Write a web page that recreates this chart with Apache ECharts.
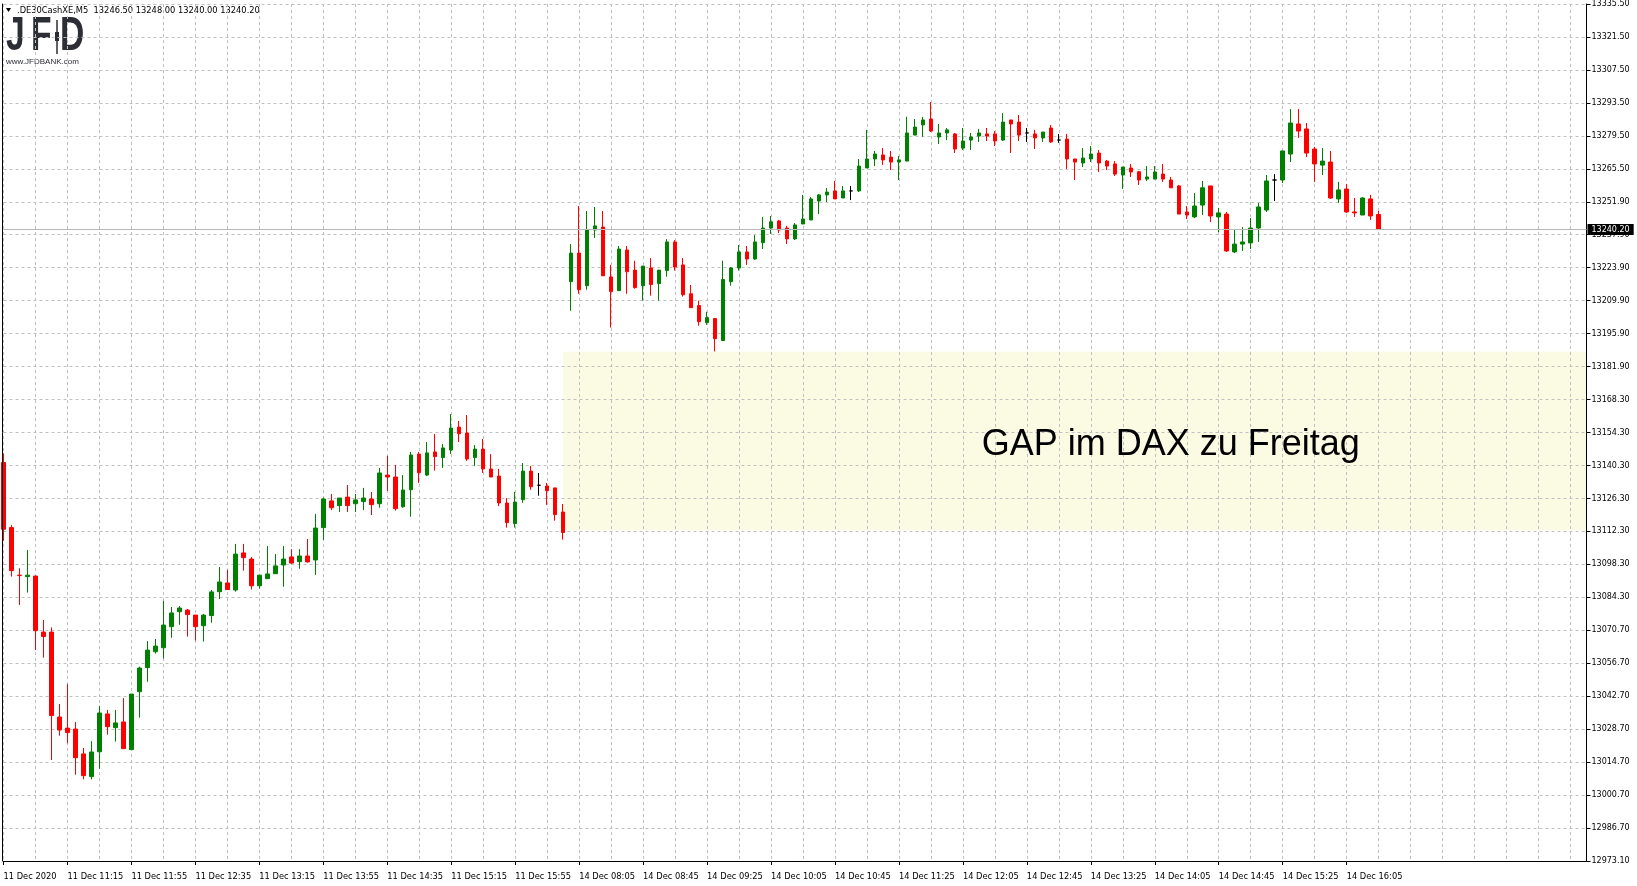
<!DOCTYPE html>
<html>
<head>
<meta charset="utf-8">
<style>
html,body{margin:0;padding:0;background:#fff;}
#chart{width:1637px;height:886px;}
</style>
<script src="https://cdn.jsdelivr.net/npm/echarts@6/dist/echarts.min.js"></script>
</head>
<body>
<div id="chart"></div>
<script>
// ---- data (each bar: [open, high, low, close]) ----
const symbolName = '.DE30CashXE,M5';

const fridayStart = '10:35';
const fridayBars = [
[13141.6,13145.5,13108.6,13113.4],[13114.1,13115.2,13093.4,13095.9],[13094.0,13096.9,13081.4,13093.8],[13093.4,13104.6,13086.6,13094.0],
[13093.6,13093.8,13062.3,13070.5],[13069.9,13075.0,13059.1,13068.0],[13069.9,13071.9,13015.8,13034.6],[13034.0,13039.5,13026.1,13028.5],
[13029.3,13047.9,13022.9,13027.4],[13028.9,13031.9,13009.6,13016.8],[13018.4,13020.9,13007.6,13009.2],[13008.8,13023.8,13007.6,13019.2],
[13019.3,13038.7,13012.1,13035.7],[13035.3,13037.0,13026.5,13029.9],[13029.5,13037.0,13023.6,13031.5],[13031.9,13042.0,13020.6,13020.6],
[13020.2,13043.7,13020.2,13043.7],[13044.7,13055.3,13033.7,13054.7],[13054.9,13066.1,13048.9,13062.3],[13061.6,13067.0,13060.8,13064.0],
[13063.3,13083.1,13058.7,13072.9],[13072.2,13080.5,13067.5,13078.0],[13078.5,13080.9,13073.0,13080.1],[13079.2,13079.7,13068.0,13077.3],
[13077.1,13077.1,13066.3,13072.2],[13072.6,13077.6,13065.9,13077.1],[13076.9,13087.7,13073.9,13086.9],[13087.0,13097.4,13083.9,13091.1],
[13090.7,13096.2,13087.9,13087.9],[13087.7,13107.2,13087.0,13102.9],[13103.4,13107.2,13095.9,13101.4],[13100.8,13101.7,13087.9,13089.5],
[13089.5,13094.0,13088.3,13094.0],[13092.5,13106.3,13092.5,13094.5],[13094.6,13102.9,13094.6,13097.9],[13098.3,13106.3,13089.1,13100.8],
[13101.7,13105.0,13098.7,13099.1],[13099.7,13105.0,13096.7,13102.1],[13102.1,13109.3,13099.3,13099.6],[13100.4,13119.9,13094.1,13113.9],
[13114.1,13126.8,13108.9,13126.2],[13125.4,13128.3,13121.5,13122.5],[13123.4,13126.6,13120.7,13126.6],[13127.0,13132.1,13120.7,13123.4],
[13124.2,13128.3,13120.7,13125.8],[13125.1,13130.9,13121.5,13126.6],[13126.2,13129.2,13119.4,13123.8],[13124.2,13139.3,13122.5,13137.2],
[13136.3,13144.4,13129.6,13135.5],[13135.5,13140.6,13121.3,13122.1],[13122.9,13136.3,13122.5,13130.0],[13130.1,13146.1,13118.7,13144.8],
[13145.2,13146.1,13133.0,13137.3],[13136.3,13150.3,13135.9,13145.7],[13146.1,13153.7,13138.2,13144.1],[13143.7,13149.5,13139.3,13147.8],
[13146.9,13162.1,13145.2,13156.2],[13156.6,13159.2,13150.3,13153.8],[13154.1,13161.7,13142.3,13143.1],[13143.7,13149.0,13140.2,13147.3],
[13147.3,13151.6,13137.2,13138.9],[13138.9,13145.2,13135.5,13135.5],[13135.9,13138.9,13123.2,13124.5],[13124.5,13126.6,13114.1,13116.2],
[13115.8,13129.2,13114.1,13124.9],[13125.9,13141.4,13124.6,13138.0],[13138.0,13140.2,13130.1,13131.4],[13132.0,13137.2,13127.6,13132.0],
[13131.7,13133.0,13123.7,13129.7],[13130.9,13130.9,13117.0,13119.6],[13120.7,13124.1,13109.0,13112.0]
];

const mondayStart = '08:00';
const mondayBars = [
[13218.1,13234.0,13205.8,13230.2],[13230.2,13250.1,13213.0,13214.7],[13216.4,13248.0,13214.7,13240.0],[13240.0,13249.7,13236.6,13241.7],
[13241.2,13248.0,13220.6,13220.6],[13220.1,13225.2,13198.7,13213.9],[13214.3,13233.2,13214.3,13231.9],[13231.5,13233.2,13213.0,13222.3],
[13223.0,13226.9,13215.1,13215.6],[13216.4,13224.7,13210.1,13224.7],[13223.9,13228.1,13212.2,13216.9],[13217.3,13223.0,13210.1,13223.0],
[13222.8,13236.1,13220.2,13234.9],[13234.9,13235.7,13222.8,13224.3],[13225.2,13228.1,13211.8,13212.6],[13213.0,13216.7,13207.1,13207.1],
[13208.0,13210.1,13199.5,13201.2],[13200.8,13205.4,13199.9,13202.9],[13202.5,13202.5,13188.6,13194.0],[13193.2,13227.0,13193.2,13219.0],
[13218.1,13224.3,13216.4,13223.9],[13223.9,13233.6,13222.8,13230.7],[13230.7,13233.2,13225.2,13227.7],[13227.7,13237.8,13227.3,13234.9],
[13234.6,13245.5,13231.9,13240.8],[13240.8,13245.9,13238.3,13243.4],[13243.8,13244.2,13238.7,13240.0],[13240.8,13241.7,13234.0,13236.2],
[13236.2,13242.9,13235.7,13242.1],[13242.5,13254.8,13242.5,13244.6],[13244.2,13253.9,13244.2,13253.1],[13252.2,13255.2,13246.7,13254.8],
[13254.8,13257.7,13251.8,13256.0],[13256.5,13260.7,13253.1,13253.1],[13253.5,13258.6,13253.5,13256.5],[13256.5,13258.6,13252.6,13256.5],
[13256.5,13270.0,13256.0,13267.0],[13266.2,13282.3,13266.2,13270.0],[13270.0,13273.4,13267.0,13272.1],[13271.7,13274.6,13267.5,13269.6],
[13270.8,13273.4,13265.3,13268.7],[13268.7,13271.3,13261.1,13269.6],[13269.1,13287.8,13269.1,13281.0],[13280.1,13286.9,13280.1,13283.5],
[13284.4,13287.8,13279.4,13286.5],[13286.9,13294.1,13281.4,13281.8],[13279.3,13284.8,13276.3,13281.0],[13281.0,13283.1,13278.0,13282.3],
[13280.6,13281.0,13272.5,13274.2],[13274.6,13283.1,13273.8,13277.6],[13278.0,13281.0,13273.8,13279.3],[13279.7,13282.7,13277.2,13281.0],
[13280.6,13283.1,13277.6,13279.7],[13280.6,13281.8,13275.5,13277.6],[13278.0,13289.4,13277.6,13285.6],[13286.5,13286.5,13272.5,13284.8],
[13285.6,13288.6,13277.6,13280.1],[13281.0,13283.1,13277.2,13281.0],[13280.6,13282.3,13274.2,13278.9],[13278.9,13281.4,13277.2,13281.4],
[13283.1,13284.4,13276.8,13277.2],[13278.0,13280.6,13276.8,13278.0],[13278.4,13280.6,13265.8,13270.0],[13270.0,13270.0,13261.1,13268.7],
[13268.3,13274.6,13266.6,13270.4],[13270.0,13275.5,13268.7,13272.1],[13272.5,13273.8,13264.5,13268.3],[13269.1,13269.6,13265.3,13267.0],
[13267.9,13269.1,13262.8,13263.6],[13263.2,13266.6,13257.3,13266.6],[13266.2,13267.9,13262.4,13264.5],[13264.6,13264.9,13259.0,13261.1],
[13261.5,13267.0,13260.7,13262.4],[13261.5,13267.0,13261.5,13264.5],[13263.6,13267.9,13260.3,13261.5],[13261.1,13262.4,13257.8,13257.8],
[13258.6,13259.0,13246.7,13246.7],[13247.6,13250.1,13244.6,13246.3],[13245.5,13255.6,13245.0,13250.1],[13250.5,13260.7,13246.3,13257.8],
[13258.6,13258.6,13243.3,13245.9],[13245.5,13249.3,13239.1,13247.2],[13246.7,13247.6,13230.7,13231.1],[13230.7,13240.4,13230.2,13234.0],
[13234.0,13241.2,13231.1,13234.9],[13234.5,13245.0,13231.9,13240.8],[13240.8,13251.4,13234.9,13249.7],[13248.4,13263.2,13247.6,13260.7],
[13261.1,13263.6,13252.2,13261.1],[13261.1,13273.4,13259.8,13273.4],[13272.1,13291.1,13268.7,13285.2],[13284.8,13291.1,13278.9,13281.8],
[13282.7,13285.2,13270.8,13272.5],[13274.2,13275.1,13260.3,13267.9],[13267.4,13274.6,13263.2,13269.1],[13268.7,13273.4,13253.1,13253.5],
[13253.1,13260.3,13251.4,13256.9],[13257.3,13259.4,13247.2,13247.6],[13247.6,13253.5,13245.5,13247.2],[13246.3,13253.9,13246.3,13253.5],
[13253.1,13254.8,13244.2,13245.9],[13246.5,13248.0,13240.0,13240.2]
];

const xTickLabels = ['11 Dec 2020','11 Dec 11:15','11 Dec 11:55','11 Dec 12:35','11 Dec 13:15','11 Dec 13:55','11 Dec 14:35',
  '11 Dec 15:15','11 Dec 15:55','14 Dec 08:05','14 Dec 08:45','14 Dec 09:25','14 Dec 10:05','14 Dec 10:45','14 Dec 11:25',
  '14 Dec 12:05','14 Dec 12:45','14 Dec 13:25','14 Dec 14:05','14 Dec 14:45','14 Dec 15:25','14 Dec 16:05'];

const yTickLabels = ['12973.10','12986.70','13000.70','13014.70','13028.70','13042.70','13056.70','13070.70','13084.30',
  '13098.30','13112.30','13126.30','13140.30','13154.30','13168.30','13181.90','13195.90','13209.90','13223.90','13237.90',
  '13251.90','13265.50','13279.50','13293.50','13307.50','13321.50','13335.50'];

const yMin = 12973.1;
const yStep = 13.94;
const yMax = +(yMin + (yTickLabels.length - 1) * yStep).toFixed(2);

const gapTop = 13188.5;
const gapBottom = 13113.0;
const gapText = 'GAP im DAX zu Freitag';
const gapTextAt = '14 Dec 14:15';
const gapTextPrice = 13149.2;
const gapStartAt = '11 Dec 16:25';
const emptySlots = 26;

// ---- build ----
function timeList(day, start, n) {
  const p = start.split(':').map(Number);
  const t0 = p[0] * 60 + p[1];
  const out = [];
  for (let i = 0; i < n; i++) {
    const m = t0 + 5 * i;
    out.push(day + ' ' + String(Math.floor(m / 60)).padStart(2, '0') + ':' + String(m % 60).padStart(2, '0'));
  }
  return out;
}
const allBars = fridayBars.concat(mondayBars);
const barCount = allBars.length;
const categories = timeList('11 Dec', fridayStart, fridayBars.length)
  .concat(timeList('14 Dec', mondayStart, mondayBars.length + emptySlots));
const candleData = allBars.map(b => [b[0], b[3], b[2], b[1]]);
const last = allBars[barCount - 1];
const headerText = symbolName + '  ' + last.map(v => v.toFixed(2)).join(' ');

const FONT = 'DejaVu Sans';
const GRIDC = '#c0c0c0';
const chart = echarts.init(document.getElementById('chart'), null, {renderer: 'canvas'});
chart.setOption({
  animation: false,
  backgroundColor: '#ffffff',
  grid: {left: 3.5, right: 50.5, top: 4, bottom: 25, containLabel: false, outerBoundsMode: 'none'},
  xAxis: {
    type: 'category', data: categories, boundaryGap: false, z: 1.5,
    axisLine: {show: true, lineStyle: {color: '#000', width: 1}},
    axisTick: {show: true, length: 4, interval: (i) => i % 8 === 0 && i < barCount, lineStyle: {color: '#000'}},
    axisLabel: {
      show: true, interval: (i) => i % 8 === 0 && i < barCount,
      formatter: (v, i) => xTickLabels[Math.round(i / 8)] || '',
      align: 'left', margin: 12, fontFamily: FONT, fontSize: 8.3, color: '#000', hideOverlap: false
    },
    splitLine: {show: true, interval: (i) => i % 4 === 0, lineStyle: {color: GRIDC, width: 1, type: [3, 3]}}
  },
  yAxis: [{
    type: 'value', position: 'right', min: yMin, max: yMax, interval: yStep, z: 1.5,
    axisLine: {show: true, lineStyle: {color: '#000', width: 1}},
    axisTick: {show: true, length: 4, lineStyle: {color: '#000'}},
    axisLabel: {
      margin: 5, fontFamily: FONT, fontSize: 8, color: '#000', hideOverlap: false, padding: [4, 0, 0, 0],
      formatter: (v) => yTickLabels[Math.round((v - yMin) / yStep)] || ''
    },
    splitLine: {show: true, lineStyle: {color: GRIDC, width: 1, type: [3, 3]}}
  }, {
    type: 'value', position: 'left', min: yMin, max: yMax, offset: 1.5, z: 3,
    axisLine: {show: true, lineStyle: {color: '#000', width: 1}},
    axisTick: {show: false}, axisLabel: {show: false}, splitLine: {show: false}
  }],
  series: [{
    type: 'candlestick', data: candleData, barWidth: 4, clip: true, yAxisIndex: 0,
    itemStyle: {
      color: '#008000', color0: '#ff0000', borderColor: '#008000', borderColor0: '#ff0000',
      borderColorDoji: '#000000', borderWidth: 1
    },
    emphasis: {disabled: true},
    markArea: {
      silent: true, z: 1,
      itemStyle: {color: '#fbfbe4'},
      data: [[{xAxis: gapStartAt, yAxis: gapTop}, {yAxis: gapBottom}]]
    },
    markLine: {
      silent: true, symbol: ['none', 'none'],
      lineStyle: {color: '#b8b8b8', width: 1, type: 'solid'},
      label: {
        show: true, position: 'end', distance: 1, formatter: last[3].toFixed(2),
        backgroundColor: '#000', color: '#fff', fontFamily: FONT, fontSize: 8, padding: [2, 4, 1, 4]
      },
      emphasis: {disabled: true},
      data: [{yAxis: last[3]}]
    },
    markPoint: {
      silent: true, symbol: 'rect', symbolSize: 1, itemStyle: {color: 'rgba(0,0,0,0)'},
      label: {show: true, position: 'inside', formatter: gapText, color: '#000', fontSize: 36, fontFamily: 'Liberation Sans'},
      emphasis: {disabled: true},
      data: [{coord: [gapTextAt, gapTextPrice]}]
    }
  }],
  graphic: [
    {type: 'polygon', shape: {points: [[6, 8], [11, 8], [8.5, 12]]}, style: {fill: '#000'}},
    {type: 'text', x: 17, y: 11, style: {text: headerText, align: 'left', verticalAlign: 'middle', font: '8.3px "DejaVu Sans"', fill: '#000'}},
    {type: 'text', x: 6, y: 37, scaleX: 0.7, style: {text: 'J', align: 'left', verticalAlign: 'middle', font: 'bold 48px "Liberation Sans"', fill: '#2b2e35'}},
    {type: 'text', x: 31, y: 37, scaleX: 0.7, style: {text: 'F', align: 'left', verticalAlign: 'middle', font: 'bold 48px "Liberation Sans"', fill: '#2b2e35'}},
    {type: 'text', x: 60, y: 37, scaleX: 0.7, style: {text: 'D', align: 'left', verticalAlign: 'middle', font: 'bold 48px "Liberation Sans"', fill: '#2b2e35'}},
    {type: 'line', shape: {x1: 57, y1: 20, x2: 57, y2: 54}, style: {stroke: '#2b2e35', lineWidth: 1.5}},
    {type: 'rect', shape: {x: 55, y: 32, width: 4, height: 9}, style: {fill: '#2b2e35'}},
    {type: 'text', x: 6, y: 62, style: {text: 'www.JFDBANK.com', align: 'left', verticalAlign: 'middle', font: '8px "Liberation Sans"', fill: '#2b2e35'}}
  ]
});
</script>
</body>
</html>
